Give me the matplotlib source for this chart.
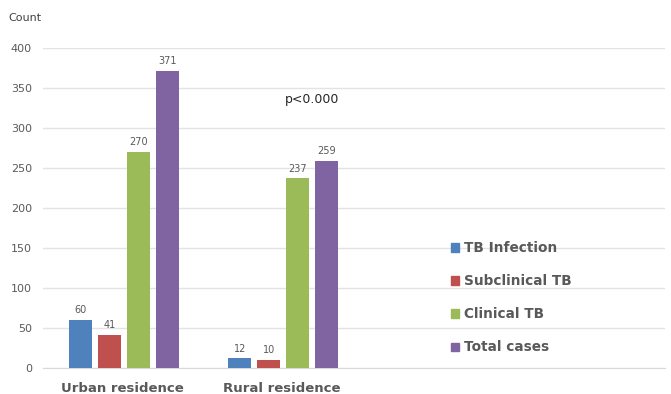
import numpy as np
import matplotlib
matplotlib.use("Agg")
import matplotlib.pyplot as plt
from matplotlib.patches import Patch

# TB cases by residence
residences = ["Urban residence", "Rural residence"]
series_names = ["TB Infection", "Subclinical TB", "Clinical TB", "Total cases"]
tb_infection = [60, 12]
subclinical_tb = [41, 10]
clinical_tb = [270, 237]
total_cases = [371, 259]
y_ticks = [0, 50, 100, 150, 200, 250, 300, 350, 400]

colors = ["#4F81BD", "#C0504D", "#9BBB59", "#8064A2"]
text_gray = "#595959"

fig = plt.figure(figsize=(6.71, 3.94), dpi=100)
ax = fig.add_axes([43 / 671, 26 / 394, 622 / 671, 320 / 394])

x = np.arange(len(residences))
width = 0.145
step = 0.182
offsets = [-1.5 * step, -0.5 * step, 0.5 * step, 1.5 * step]
all_series = [tb_infection, subclinical_tb, clinical_tb, total_cases]

for vals, off, col in zip(all_series, offsets, colors):
    bars = ax.bar(x + off, vals, width, color=col, zorder=3)
    for b, v in zip(bars, vals):
        ax.text(b.get_x() + b.get_width() / 2, v + 6, str(v),
                ha="center", va="bottom", fontsize=7, color=text_gray)

ax.set_xlim(-0.51, 3.40)
ax.set_ylim(0, 400)
ax.set_yticks(y_ticks)
ax.tick_params(axis="y", length=0, labelsize=8, labelcolor=text_gray, pad=8)
ax.set_xticks(x - 0.01)
ax.set_xticklabels(residences, fontsize=9.5, fontweight="bold", color=text_gray)
ax.tick_params(axis="x", length=0, pad=10)
ax.grid(axis="y", color="#E3E3E3", linewidth=1, zorder=0)
for side in ["top", "right", "left"]:
    ax.spines[side].set_visible(False)
ax.spines["bottom"].set_color("#D9D9D9")

fig.text(8 / 671, 1 - 18 / 394, "Count", fontsize=8, color="#404040", va="center")
ax.text(1.18, 335, "p<0.000", ha="center", va="center", fontsize=9, color="#262626")

handles = [Patch(color=c) for c in colors]
ax.legend(handles, series_names, loc="upper left",
          bbox_to_anchor=(396 / 622, 139 / 320), frameon=False,
          labelcolor=text_gray, prop={"weight": "bold", "size": 9.8},
          handlelength=0.55, handleheight=0.55, handletextpad=0.4,
          labelspacing=1.4)

fig.savefig("out.png", dpi=100, facecolor="white")
